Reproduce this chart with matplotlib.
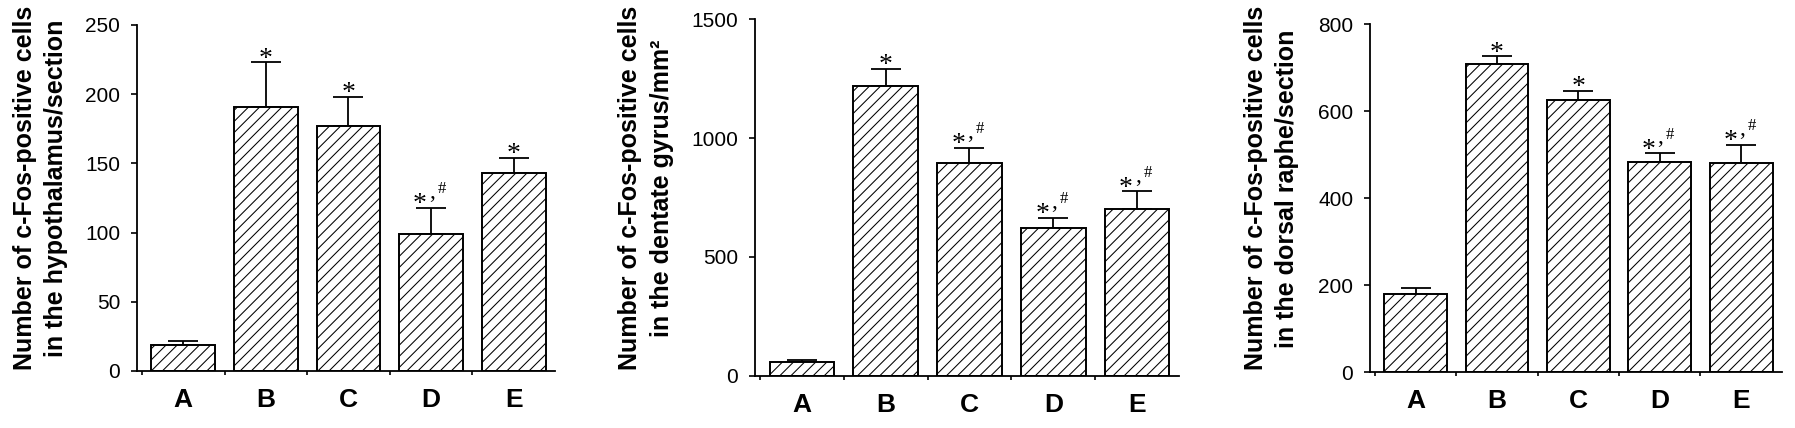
import matplotlib
matplotlib.use("Agg")
import matplotlib.pyplot as plt

# groups
groups = ["A", "B", "C", "D", "E"]

# hypothalamus (cells/section)
hyp_mean = [19, 191, 177, 99, 143]
hyp_err = [2.5, 32, 21, 19, 11]
hyp_sig = ["", "*", "*", "*#", "*"]

# dentate gyrus (cells/mm2)
dg_mean = [60, 1220, 896, 623, 702]
dg_err = [7, 70, 62, 42, 74]
dg_sig = ["", "*", "*#", "*#", "*#"]

# dorsal raphe (cells/section)
dr_mean = [179, 707, 626, 482, 480]
dr_err = [14, 19, 21, 21, 42]
dr_sig = ["", "*", "*", "*#", "*#"]

plt.rcParams["font.family"] = ["Liberation Sans", "DejaVu Sans"]
plt.rcParams["hatch.linewidth"] = 0.75
plt.rcParams["hatch.color"] = "#3a3a3a"

fig = plt.figure(figsize=(17.95, 4.28), dpi=100)

panels = [
    ([0.0763, 0.1332, 0.2329, 0.8084], hyp_mean, hyp_err, hyp_sig, 250, 50,
     "Number of c-Fos-positive cells\nin the hypothalamus/section", 0.0225),
    ([0.4206, 0.1215, 0.2362, 0.8341], dg_mean, dg_err, dg_sig, 1500, 500,
     "Number of c-Fos-positive cells\nin the dentate gyrus/mm²", 0.3600),
    ([0.7632, 0.1308, 0.2295, 0.8131], dr_mean, dr_err, dr_sig, 800, 200,
     "Number of c-Fos-positive cells\nin the dorsal raphe/section", 0.7083),
]

serif = "Liberation Serif"

for rect, mean, err, sig, ymax, step, ylab, lx in panels:
    ax = fig.add_axes(rect)
    x = list(range(len(groups)))
    ax.bar(x, mean, width=0.77, color="white", edgecolor="black",
           linewidth=1.4, hatch="///", zorder=2)
    ax.errorbar(x, mean, yerr=[[0] * len(err), err], fmt="none",
                ecolor="black", elinewidth=1.3, capsize=11, capthick=1.3,
                zorder=1)
    for xi, m, e, s in zip(x, mean, err, sig):
        if not s:
            continue
        top = m + e
        if s == "*":
            ax.annotate("*", (xi, top), xytext=(0, -2.5), textcoords="offset points",
                        ha="center", va="baseline", fontsize=20, family=serif)
        else:
            ax.annotate("*", (xi, top), xytext=(-8, -2.5), textcoords="offset points",
                        ha="center", va="baseline", fontsize=20, family=serif)
            ax.annotate(",", (xi, top), xytext=(0.5, 7), textcoords="offset points",
                        ha="center", va="baseline", fontsize=17, family=serif)
            ax.annotate("#", (xi, top), xytext=(4.5, 10.5), textcoords="offset points",
                        ha="left", va="baseline", fontsize=12, family=serif)

    ax.set_xlim(-0.56, 4.5)
    ax.set_ylim(0, ymax)
    ax.set_yticks(range(0, ymax + 1, step))
    ax.set_xticks(x)
    ax.set_xticklabels(groups, fontsize=19, fontweight="bold")
    ax.set_xticks([-0.5, 0.5, 1.5, 2.5, 3.5], minor=True)
    ax.tick_params(axis="x", which="major", length=0, pad=12)
    ax.tick_params(axis="x", which="minor", length=3, width=1.2, direction="out")
    ax.tick_params(axis="y", length=4, width=1.2, pad=8, labelsize=15)
    for side in ["top", "right"]:
        ax.spines[side].set_visible(False)
    for side in ["left", "bottom"]:
        ax.spines[side].set_linewidth(1.3)

    fig.text(lx, 0.56, ylab, rotation=90, ha="center", va="center",
             multialignment="center", fontsize=18, fontweight="bold",
             linespacing=1.4)

fig.savefig("out.png", dpi=100)
